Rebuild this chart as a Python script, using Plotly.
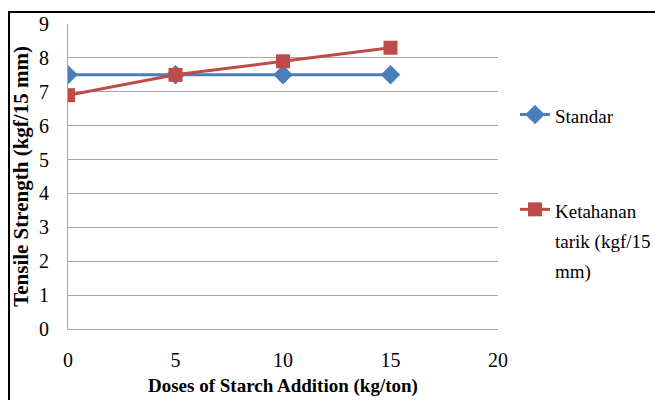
import plotly.graph_objects as go

# Starch dose (kg/ton) and tensile strength (kgf/15 mm)
doses = [0, 5, 10, 15]
standar = [7.5, 7.5, 7.5, 7.5]
ketahanan = [6.9, 7.5, 7.9, 8.3]
x_ticks = [0, 5, 10, 15, 20]
y_ticks = list(range(0, 10))
legend_names = ["Standar", "Ketahanan<br>tarik (kgf/15<br>mm)"]
x_title = "Doses of Starch Addition (kg/ton)"
y_title = "Tensile Strength (kgf/15 mm)"

SERIF = "Times New Roman"
W, H = 655, 400
ML, MR, MT, MB = 68, 157, 24, 71
PW, PH = W - ML - MR, H - MT - MB


def px_x(px):
    return (px - ML) / PW


def px_y(py):
    return (H - MB - py) / PH


def legend_label(text):
    # smaller glyphs inside a larger line box -> looser line spacing
    lines = text.split("<br>")
    return "<br>".join(
        f'<span style="font-size:19px;font-family:{SERIF}">{ln}</span>' for ln in lines
    )


fig = go.Figure()
fig.add_trace(go.Scatter(
    x=doses, y=standar, name=legend_label(legend_names[0]), mode="lines+markers",
    line=dict(color="#4A7EBB", width=3),
    marker=dict(symbol="diamond", size=15, color="#4A7EBB"),
    legendgroup="a",
))
fig.add_trace(go.Scatter(
    x=doses, y=ketahanan, name=legend_label(legend_names[1]), mode="lines+markers",
    line=dict(color="#BE4B48", width=3),
    marker=dict(symbol="square", size=14, color="#BE4B48"),
    legendgroup="b",
))

fig.update_layout(
    width=W, height=H,
    margin=dict(l=ML, r=MR, t=MT, b=MB, autoexpand=False),
    paper_bgcolor="white", plot_bgcolor="white",
    font=dict(family=SERIF, size=20, color="black"),
    showlegend=True,
    legend=dict(
        x=px_x(515), y=px_y(93), xanchor="left", yanchor="top",
        font=dict(family=SERIF, size=23, color="black"),
        tracegroupgap=62, bgcolor="rgba(0,0,0,0)",
        itemwidth=30, valign="top",
    ),
    xaxis=dict(
        range=[0, 20], tickvals=x_ticks, showgrid=False, zeroline=False,
        showline=True, linecolor="#A6A6A6", linewidth=1, ticks="",
        ticklabelstandoff=13, tickfont=dict(family=SERIF, size=20),
    ),
    yaxis=dict(
        range=[0, 9], tickvals=y_ticks, showgrid=True, gridcolor="#A6A6A6",
        gridwidth=1, zeroline=False, showline=True, linecolor="#A6A6A6",
        linewidth=1, ticks="", ticklabelstandoff=14,
        tickfont=dict(family=SERIF, size=20),
        title=dict(text=f"<b>{y_title}</b>",
                   font=dict(family=SERIF, size=21), standoff=4),
    ),
    # x-axis title placed low, close to the page's bottom edge
    annotations=[dict(
        text=f"<b>{x_title}</b>", xref="paper", yref="paper",
        x=0.5, y=px_y(399), xanchor="center", yanchor="bottom",
        showarrow=False, font=dict(family=SERIF, size=19, color="black"),
    )],
    shapes=[dict(
        type="rect", xref="paper", yref="paper",
        x0=px_x(9), x1=px_x(680), y0=px_y(12), y1=px_y(420),
        line=dict(color="black", width=2), fillcolor="rgba(0,0,0,0)",
        layer="above",
    )],
)

fig.write_html("out.html")
